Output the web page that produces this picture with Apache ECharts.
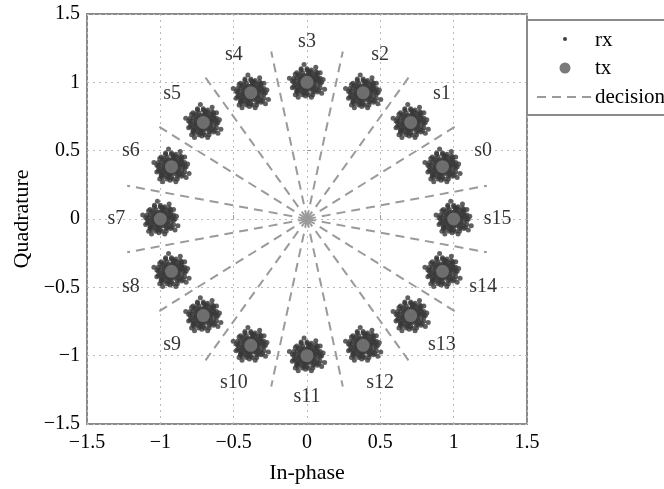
<!DOCTYPE html>
<html><head><meta charset="utf-8">
<script src="https://cdn.jsdelivr.net/npm/echarts@6/dist/echarts.min.js"></script>
<style>html,body{margin:0;padding:0;background:#fff}#c{width:664px;height:489px}</style>
</head><body><div id="c"></div>
<script>
// transmitted constellation points (16-PSK)
var txNames = ['s0','s1','s2','s3','s4','s5','s6','s7','s8','s9','s10','s11','s12','s13','s14','s15'];
var txI = [0.924, 0.707, 0.383, 0, -0.383, -0.707, -0.924, -1, -0.924, -0.707, -0.383, 0, 0.383, 0.707, 0.924, 1];
var txQ = [0.383, 0.707, 0.924, 1, 0.924, 0.707, 0.383, 0, -0.383, -0.707, -0.924, -1, -0.924, -0.707, -0.383, 0];
// decision boundary end points (lines start at the origin)
var decI = [1.226, 1.039, 0.695, 0.244, -0.244, -0.695, -1.039, -1.226, -1.226, -1.039, -0.695, -0.244, 0.244, 0.695, 1.039, 1.226];
var decQ = [0.244, 0.695, 1.039, 1.226, 1.226, 1.039, 0.695, 0.244, -0.244, -0.695, -1.039, -1.226, -1.226, -1.039, -0.695, -0.244];
// estimated received-noise spread around each symbol (hundredths of a unit)
var noiseI = [0,2,-2,1,-1,3,-3,0,0,2,-2,2,-2,1,-1,
  5,-5,0,0,4,-4,4,-4,3,-3,3,-3,5,-5,5,-5,2,-2,2,-2,6,-6,1,-1,
  8,-8,1,0,6,-6,6,-5,7,-7,7,-7,3,-3,4,-3,8,-8,2,-2,5,-6,5,-5,9,-9,0,1,7,-7,
  9,-9,9,-9,3,-4,4,-3,7,-7,7,-7,10,-10,0,-1,6,-8,8,-6,
  11,-10,3,-4,9,-8,12,-12,6,-6,10,-2];
var noiseQ = [0,1,1,-2,-2,0,0,3,-3,2,-2,-2,2,1,-1,
  0,0,5,-5,3,3,-3,-3,4,4,-4,-4,2,2,-2,-2,5,5,-5,-5,1,-1,6,-6,
  0,1,8,-8,5,5,-5,-6,3,3,-3,-4,7,7,-7,-7,2,-2,8,-8,6,-5,-6,6,-1,0,9,-9,5,-6,
  3,3,-4,-3,9,9,-9,-9,7,7,-7,-7,0,1,10,-10,8,6,-6,-8,
  2,-4,-11,10,7,-9,-5,3,11,-11,-8,13];
var xTicks = [-1.5, -1, -0.5, 0, 0.5, 1, 1.5];
var labelRadius = 1.3;

var FONT = "'Liberation Serif','Times New Roman',serif";
var rxData = [];
for (var k = 0; k < txI.length; k++) {
  for (var j = 0; j < noiseI.length; j++) {
    rxData.push([txI[k] + noiseI[j] / 100, txQ[k] + noiseQ[j] / 100]);
  }
}
var txData = txI.map(function (v, i) { return [v, txQ[i]]; });
var labData = txI.map(function (v, i) { return { name: txNames[i], value: [v * labelRadius, txQ[i] * labelRadius] }; });
var decData = decI.map(function (v, i) { return { coords: [[0, 0], [v, decQ[i]]] }; });

function fmt(v) { return String(v).replace('-', '\u2212'); }

var axisCommon = {
  type: 'value', min: -1.5, max: 1.5, interval: 0.5,
  axisLine: { show: false },
  axisTick: { show: true, inside: true, length: 4, lineStyle: { color: '#999' } },
  splitLine: { show: true, lineStyle: { type: [2, 4], color: '#bbb', width: 1 } },
  axisLabel: { color: '#000', fontFamily: FONT, fontSize: 20, formatter: fmt },
  nameLocation: 'middle',
  nameTextStyle: { color: '#000', fontFamily: FONT, fontSize: 22 }
};

var chart = echarts.init(document.getElementById('c'), null, { renderer: 'canvas' });
chart.setOption({
  animation: false,
  backgroundColor: '#fff',
  grid: { left: 87, top: 14, width: 440, height: 412, show: true, borderColor: '#8a8a8a', borderWidth: 2, containLabel: false },
  xAxis: Object.assign({}, axisCommon, { name: 'In-phase', nameGap: 38, axisLabel: Object.assign({}, axisCommon.axisLabel, { margin: 9 }) }),
  yAxis: Object.assign({}, axisCommon, { name: 'Quadrature', nameGap: 54, axisLabel: Object.assign({}, axisCommon.axisLabel, { margin: 7 }) }),
  series: [
    { name: 'decision', type: 'lines', coordinateSystem: 'cartesian2d', data: decData, z: 1,
      lineStyle: { color: '#9a9a9a', width: 2, type: [9, 6], opacity: 1 }, silent: true },
    { name: 'rx', type: 'scatter', data: rxData, symbol: 'circle', symbolSize: 5, z: 2,
      itemStyle: { color: '#383838' }, large: false, silent: true },
    { name: 'tx', type: 'scatter', data: txData, symbol: 'circle', symbolSize: 13, z: 3,
      itemStyle: { color: '#7a7a7a' }, silent: true },
    { name: 'labels', type: 'scatter', data: labData, symbolSize: 0, z: 4, silent: true,
      label: { show: true, position: 'inside', formatter: '{b}', color: '#000', fontFamily: FONT, fontSize: 20 } }
  ],
  graphic: [
    { type: 'rect', shape: { x: 527, y: 20, width: 200, height: 95 }, style: { fill: '#fff', stroke: '#8a8a8a', lineWidth: 2 }, z: 10 },
    { type: 'circle', shape: { cx: 565, cy: 39, r: 2 }, style: { fill: '#3f3f3f' }, z: 11 },
    { type: 'circle', shape: { cx: 565, cy: 68, r: 5.5 }, style: { fill: '#7a7a7a' }, z: 11 },
    { type: 'line', shape: { x1: 537, y1: 97, x2: 595, y2: 97 }, style: { stroke: '#9a9a9a', lineWidth: 2, lineDash: [9, 6] }, z: 11 },
    { type: 'text', x: 595, y: 40, style: { text: 'rx', fill: '#000', font: '21px ' + FONT, textVerticalAlign: 'middle' }, z: 11 },
    { type: 'text', x: 595, y: 68, style: { text: 'tx', fill: '#000', font: '21px ' + FONT, textVerticalAlign: 'middle' }, z: 11 },
    { type: 'text', x: 595, y: 97, style: { text: 'decision', fill: '#000', font: '21px ' + FONT, textVerticalAlign: 'middle' }, z: 11 }
  ]
});
</script></body></html>
